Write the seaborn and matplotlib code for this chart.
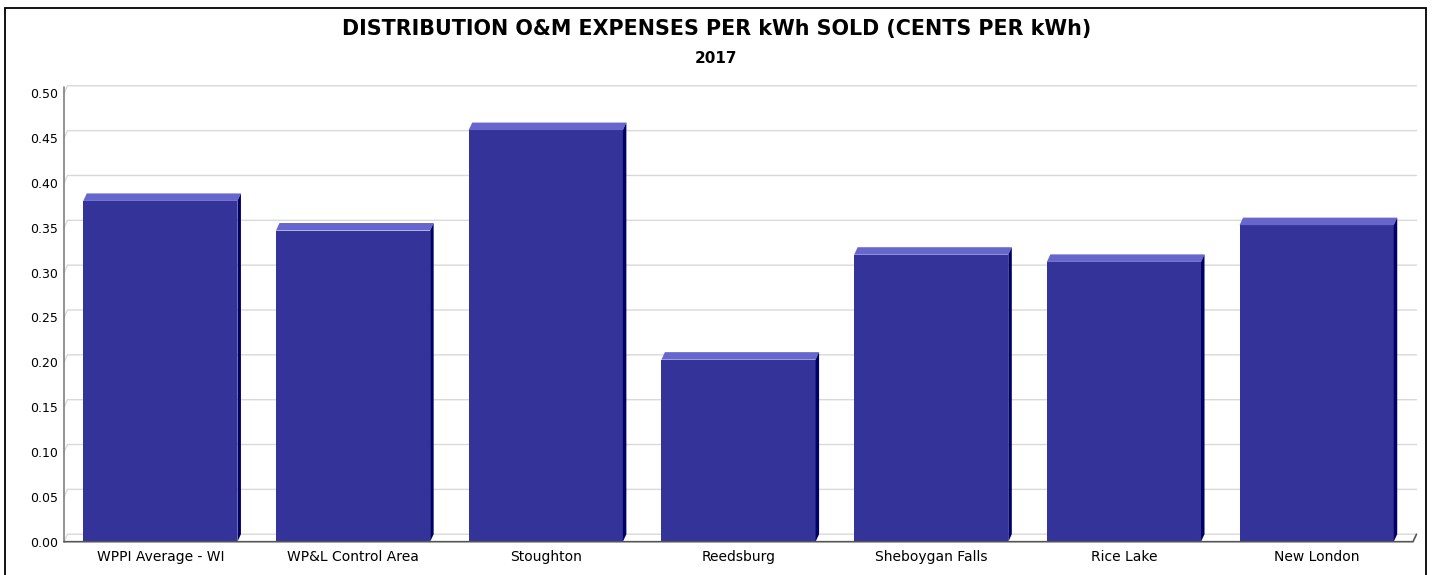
import matplotlib
matplotlib.use("Agg")
import pandas as pd
import matplotlib.pyplot as plt
import seaborn as sns
from matplotlib.patches import Polygon, Rectangle

# values (cents per kWh, 2017)
utilities = ["WPPI Average - WI", "WP&L Control Area", "Stoughton", "Reedsburg",
             "Sheboygan Falls", "Rice Lake", "New London"]
expense = [0.380, 0.347, 0.459, 0.203, 0.320, 0.312, 0.353]
y_ticks = [0.00, 0.05, 0.10, 0.15, 0.20, 0.25, 0.30, 0.35, 0.40, 0.45, 0.50]

title = "DISTRIBUTION O&M EXPENSES PER kWh SOLD (CENTS PER kWh)"
subtitle = "2017"

front_color = "#333399"
top_color = "#6666cc"
side_color = "#000066"
grid_color = "#d9d9d9"
axis_color = "#808080"

sns.set_style("white")
plt.rcParams['font.family'] = ['DejaVu Sans']
plt.rcParams['text.color'] = 'black'

W, H = 1433, 575
fig = plt.figure(figsize=(W / 100, H / 100), dpi=100)
ax_l, ax_b, ax_w, ax_h = 64, 33.3, 1349, 448.4   # pixels
ax = fig.add_axes([ax_l / W, ax_b / H, ax_w / W, ax_h / H])

df = pd.DataFrame({"utility": utilities, "expense": expense})
sns.barplot(data=df, x="utility", y="expense", color=front_color, width=0.8,
            saturation=1, linewidth=0, ax=ax, zorder=3)

ax.set_xlim(-0.5, len(utilities) - 0.5)
ax.set_ylim(0, 0.5)

# 3d depth offset, in pixels -> data units
xr = len(utilities)
dx = 3.5 * xr / ax_w
dy = 7.5 * 0.5 / ax_h

# back wall gridlines with a small slant from the front axis
x0, x1 = -0.5, xr - 0.5
for v in y_ticks:
    ax.plot([x0, x0 + dx, x1 + dx], [v, v + dy, v + dy], color=grid_color,
            lw=1, zorder=1, clip_on=False, solid_joinstyle="miter")

# top and side faces of each bar
for p in ax.patches:
    bx, bw, bh = p.get_x(), p.get_width(), p.get_height()
    top = Polygon([(bx, bh), (bx + bw, bh), (bx + bw + dx, bh + dy), (bx + dx, bh + dy)],
                  closed=True, facecolor=top_color, edgecolor="none", zorder=3, clip_on=False)
    side = Polygon([(bx + bw, 0), (bx + bw, bh), (bx + bw + dx, bh + dy), (bx + bw + dx, dy)],
                   closed=True, facecolor=side_color, edgecolor="none", zorder=3, clip_on=False)
    ax.add_patch(top)
    ax.add_patch(side)

# front axis lines
ax.plot([x0, x0], [0, 0.5 + dy * 0.8], color=axis_color, lw=1.2, zorder=4, clip_on=False)
ax.plot([x0, x1, x1 + dx], [0, 0, dy], color="#555555", lw=1.2, zorder=4, clip_on=False,
        solid_joinstyle="miter")

for s in ax.spines.values():
    s.set_visible(False)

ax.set_yticks(y_ticks)
ax.set_yticklabels([f"{v:.2f}" for v in y_ticks])
ax.tick_params(axis="y", length=0, pad=4.5, labelsize=9, colors="black")
ax.tick_params(axis="x", length=0, pad=6, labelsize=10, colors="black")
ax.set_xlabel("")
ax.set_ylabel("")
ax.grid(False)

fig.text(0.5, 1 - 29 / H, title, ha="center", va="center", fontsize=14.9,
         fontweight="bold", color="black")
fig.text(0.5, 1 - 58.5 / H, subtitle, ha="center", va="center", fontsize=11,
         fontweight="bold", color="black")

# outer frame
fig.add_artist(Rectangle((5 / W, -0.05), 1421 / W, 1.05 - 7.8 / H, transform=fig.transFigure,
                         fill=False, edgecolor="black", lw=1.3))

fig.savefig("out.png", dpi=100)
